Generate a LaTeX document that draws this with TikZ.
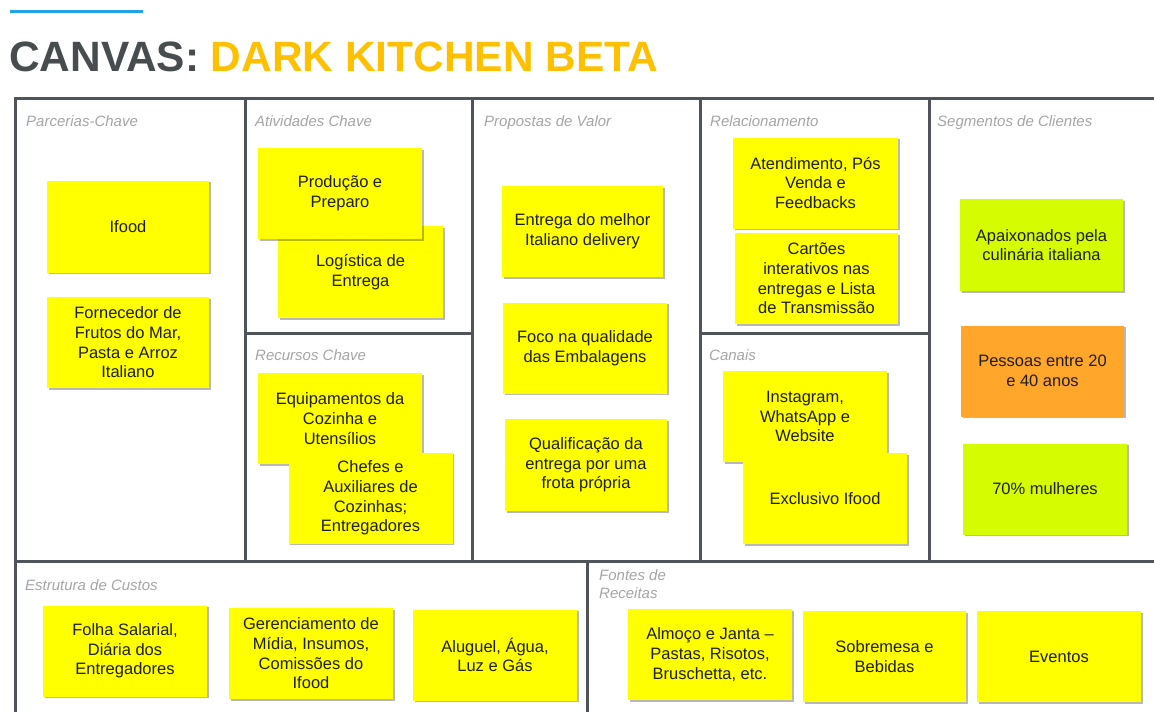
\documentclass[tikz,border=0pt]{standalone}
\usepackage{fontspec}
\setmainfont{Liberation Sans}
\usetikzlibrary{shadows}
\definecolor{framegray}{RGB}{78,84,90}
\definecolor{noteyellow}{RGB}{255,255,0}
\definecolor{notelime}{RGB}{213,252,0}
\definecolor{noteorange}{RGB}{255,166,43}
\definecolor{notetext}{RGB}{30,30,20}
\definecolor{labelgray}{RGB}{165,165,165}
\definecolor{titlegray}{RGB}{71,76,78}
\definecolor{titleorange}{RGB}{255,192,0}
\definecolor{accentblue}{RGB}{33,163,230}
\begin{document}
\begin{tikzpicture}[x=1pt,y=-1pt,
  frame/.style={draw=framegray,line width=3pt},
  sticky/.style={fill=noteyellow, minimum width=164pt, minimum height=91pt, inner sep=0pt,
    align=center, text=notetext, font=\fontsize{16.5}{19.7}\selectfont,
    drop shadow={shadow xshift=1.5pt,shadow yshift=-1.8pt,opacity=0.28,fill=black}},
  lime/.style={fill=notelime},
  orangenote/.style={fill=noteorange},
  sect/.style={anchor=base west, inner sep=0pt, text=labelgray, font=\fontsize{15}{18}\selectfont\itshape}
]
\useasboundingbox (0,0) rectangle (1154,712);
\fill[white] (0,0) rectangle (1154,712);

% accent line and title
\draw[accentblue, line width=3pt] (10,11) -- (143,11);
\node[anchor=base west, inner sep=0pt, font=\fontsize{42.4}{46}\selectfont\bfseries] (title) at (9,71)
  {\textcolor{titlegray}{CANVAS:} \textcolor{titleorange}{DARK KITCHEN BETA}};

% frame
\draw[frame] (1154,98) -- (15,98) -- (15,712);
\draw[frame] (245,98) -- (245,561);
\draw[frame] (472,98) -- (472,561);
\draw[frame] (700,98) -- (700,561);
\draw[frame] (929,98) -- (929,561);
\draw[frame] (245,333) -- (472,333);
\draw[frame] (700,333) -- (929,333);
\draw[frame] (15,561) -- (1154,561);
\draw[frame] (587,561) -- (587,712);

% section labels
\node[sect] (lparc) at (26,126) {Parcerias-Chave};
\node[sect] (lativ) at (255,126) {Atividades Chave};
\node[sect] (lprop) at (484,126) {Propostas de Valor};
\node[sect] (lrel) at (710,126) {Relacionamento};
\node[sect] (lseg) at (937,126) {Segmentos de Clientes};
\node[sect] (lrec) at (255,360) {Recursos Chave};
\node[sect] (lcan) at (709,360) {Canais};
\node[sect] (lcus) at (25,590) {Estrutura de Custos};
\node[sect, anchor=north west, align=left] (lfon) at (599,569.5) {Fontes de\\Receitas};

% Parcerias-Chave
\node[sticky, minimum width=162pt, minimum height=92pt] (ifood) at (128,226.5) {Ifood};
\node[sticky, minimum width=162pt] (forn) at (128,342.5) {Fornecedor de\\Frutos do Mar,\\Pasta e Arroz\\Italiano};

% Atividades Chave
\node[sticky, minimum width=165pt, minimum height=92pt] (logi) at (360.5,272) {Logística de\\Entrega};
\node[sticky] (prod) at (340,193.5) {Produção e\\Preparo};

% Recursos Chave
\node[sticky] (equip) at (340,418.5) {Equipamentos da\\Cozinha e\\Utensílios};
\node[sticky] (chefes) at (370.5,498) {Chefes e\\Auxiliares de\\Cozinhas;\\Entregadores};

% Propostas de Valor
\node[sticky, minimum width=161pt] (entrega) at (582.5,231.5) {Entrega do melhor\\Italiano delivery};
\node[sticky] (foco) at (585,348) {Foco na qualidade\\das Embalagens};
\node[sticky, minimum width=162pt, minimum height=92pt] (qualif) at (586,465) {Qualificação da\\entrega por uma\\frota própria};

% Relacionamento
\node[sticky, minimum width=165pt] (atend) at (815.5,183) {Atendimento, Pós\\Venda e\\Feedbacks};
\node[sticky, minimum width=163pt] (cartoes) at (816.5,278.5) {Cartões\\interativos nas\\entregas e Lista\\de Transmissão};

% Canais
\node[sticky] (insta) at (805,416.5) {Instagram,\\WhatsApp e\\Website};
\node[sticky] (exclus) at (825,498.5) {Exclusivo Ifood};

% Segmentos de Clientes
\node[sticky, lime, minimum width=163pt, minimum height=92pt] (apaix) at (1041.5,245) {Apaixonados pela\\culinária italiana};
\node[sticky, orangenote, minimum width=163pt] (pessoas) at (1042.5,371) {Pessoas entre 20\\e 40 anos};
\node[sticky, lime] (mulheres) at (1045,489) {70\% mulheres};

% Estrutura de Custos
\node[sticky] (folha) at (125,651) {Folha Salarial,\\Diária dos\\Entregadores};
\node[sticky] (gerenc) at (311,653.5) {Gerenciamento de\\Mídia, Insumos,\\Comissões do\\Ifood};
\node[sticky] (aluguel) at (495,655) {Aluguel, Água,\\Luz e Gás};

% Fontes de Receitas
\node[sticky] (almoco) at (710,654.5) {Almoço e Janta –\\Pastas, Risotos,\\Bruschetta, etc.};
\node[sticky, minimum width=163pt] (sobrem) at (884.5,656.5) {Sobremesa e\\Bebidas};
\node[sticky] (eventos) at (1059,656.5) {Eventos};
\end{tikzpicture}
\end{document}
